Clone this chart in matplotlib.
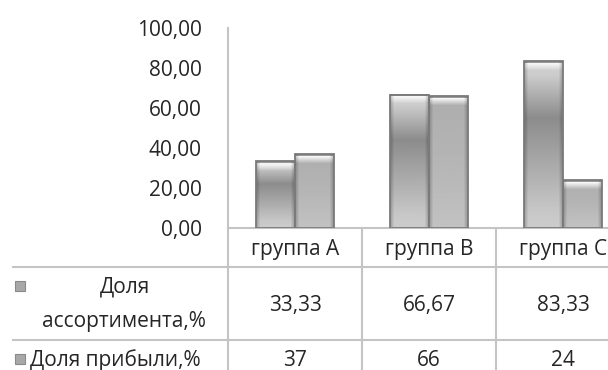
import numpy as np
import matplotlib
matplotlib.use("Agg")
import matplotlib.pyplot as plt
from matplotlib.patches import Rectangle
from matplotlib.lines import Line2D
import matplotlib.transforms as mtransforms

plt.rcParams['font.family'] = ['Open Sans', 'DejaVu Sans']

groups = ['группа A', 'группа B', 'группа C']
assort = [33.33, 66.67, 83.33]
profit = [37, 66, 24]
assort_labels = ['33,33', '66,67', '83,33']
profit_labels = ['37', '66', '24']
yticks = [0, 20, 40, 60, 80, 100]
ytick_labels = ['0,00', '20,00', '40,00', '60,00', '80,00', '100,00']

W, H = 608, 370
txt = '#262626'
grid = '#c4c4c4'

fig = plt.figure(figsize=(W / 100, H / 100), dpi=100)
fig.patch.set_facecolor('white')

# axes in pixel units -> figure fraction
ax_l, ax_t, ax_b = 228, 28, 228
col_w = 134
ax = fig.add_axes([ax_l / W, 1 - ax_b / H, (W - ax_l) / W, (ax_b - ax_t) / H])


def px2fig(x, y):
    return x / W, 1 - y / H


def bar_img(h_px, dark_band):
    n = max(int(h_px), 2)
    t = np.linspace(1, 0, n)  # top -> bottom (fraction of height from bottom)
    if dark_band:
        v = np.interp(t, [0, 0.1, 0.66, 0.92, 1], [0.80, 0.78, 0.55, 0.80, 0.82])
    else:
        v = np.interp(t, [0, 0.5, 1], [0.76, 0.71, 0.68])
    # top bevel highlight
    d = np.arange(n)
    cap = np.clip(1 - (d - 2) / 7.0, 0, 1) * (d >= 2)
    v = v * (1 - cap) + 0.97 * cap
    v[:2] = 0.6
    xs = np.linspace(0, 1, 40)
    hp = 1 - 0.22 * np.clip(1 - np.minimum(xs, 1 - xs) / 0.1, 0, 1)
    return np.outer(v, hp)


bw = 0.29
px_per_unit = (ax_b - ax_t) / 100.0
for i in range(len(groups)):
    for k, (vals, dark) in enumerate([(assort, True), (profit, False)]):
        x0 = i - bw + k * bw
        h = vals[i]
        img = bar_img(h * px_per_unit, dark)
        ax.imshow(img, extent=(x0, x0 + bw, 0, h), aspect='auto', cmap='gray',
                  vmin=0, vmax=1, interpolation='bilinear', zorder=2)
        ax.add_patch(Rectangle((x0, 0), bw, h, fill=False, edgecolor='#7a7a7a',
                               linewidth=1.3, zorder=3))

ax.set_xlim(-0.5, -0.5 + (W - ax_l) / col_w)
ax.set_ylim(0, 100)
ax.set_yticks(yticks)
ax.set_yticklabels(ytick_labels)
ax.set_xticks([])
ax.tick_params(axis='y', length=0, pad=19, labelsize=15, colors=txt)
for s in ['top', 'right']:
    ax.spines[s].set_visible(False)
ax.spines['left'].set_color(grid)
ax.spines['left'].set_linewidth(1.5)
ax.spines['bottom'].set_color(grid)
ax.spines['bottom'].set_linewidth(1.5)

# data table below the chart
def fline(x0, y0, x1, y1):
    a, b = px2fig(x0, y0)
    c, d = px2fig(x1, y1)
    fig.add_artist(Line2D([a, c], [b, d], color=grid, linewidth=1.5))

fline(13, 267, W, 267)
fline(13, 340, W, 340)
for i in range(len(groups) + 1):
    xp = ax_l + i * col_w
    if xp < W:
        fline(xp, ax_b, xp, H)

bt = mtransforms.blended_transform_factory(ax.transData, fig.transFigure)
for i in range(len(groups)):
    ax.text(i, px2fig(0, 249)[1], groups[i], transform=bt, ha='center',
            va='center', fontsize=15, color=txt, clip_on=False)
    ax.text(i, px2fig(0, 305)[1], assort_labels[i], transform=bt, ha='center',
            va='center', fontsize=15, color=txt, clip_on=False)
    ax.text(i, px2fig(0, 360)[1], profit_labels[i], transform=bt, ha='center',
            va='center', fontsize=15, color=txt, clip_on=False)

fig.text(*px2fig(125, 287), 'Доля', ha='center', va='center', fontsize=15, color=txt)
fig.text(*px2fig(124, 322), 'ассортимента,%', ha='center', va='center', fontsize=15, color=txt)
fig.text(*px2fig(30, 360), 'Доля прибыли,%', ha='left', va='center', fontsize=15, color=txt)

# legend keys
for yk in [281, 354]:
    a, b = px2fig(15, yk + 10)
    fig.add_artist(Rectangle((a, b), 10 / W, 10 / H, transform=fig.transFigure,
                             facecolor='#a8a8a8', edgecolor='#8a8a8a', linewidth=0.8))

fig.savefig('out.png', dpi=100)
